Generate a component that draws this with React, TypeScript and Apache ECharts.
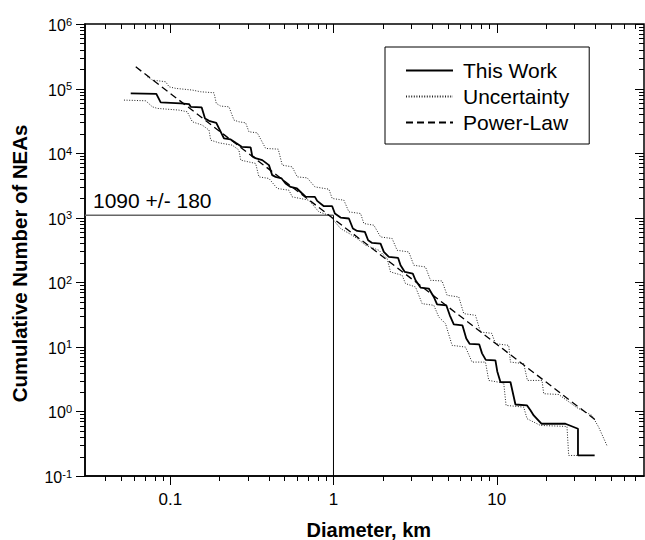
import React, { useEffect, useRef } from 'react';
import * as echarts from 'echarts';

// ---- Data (diameter km, cumulative number) ----
const thisWork: [number, number][] = [
  [0.0572, 84300], [0.0821, 83000], [0.0873, 61100], [0.1158, 58950], [0.1302, 57500],
  [0.1333, 52200], [0.1557, 51100], [0.1632, 34500], [0.1726, 31700], [0.1913, 29500],
  [0.2132, 16900], [0.2344, 16310], [0.2515, 14440], [0.2737, 12520], [0.3107, 12260],
  [0.3177, 8984], [0.3362, 8275], [0.366, 7790], [0.4022, 6516], [0.4213, 4559],
  [0.4418, 4292], [0.4811, 4054], [0.5088, 3391], [0.5462, 3002], [0.5969, 2836],
  [0.643, 2372], [0.6747, 2117], [0.7693, 2102], [0.7946, 1822], [0.8733, 1508],
  [0.9818, 1508], [1.02, 1162], [1.105, 1007], [1.243, 972], [1.315, 680],
  [1.397, 624], [1.557, 602], [1.631, 448], [1.726, 407], [1.943, 398],
  [2.035, 295], [2.184, 247], [2.49, 238], [2.576, 183.5], [2.736, 144.4],
  [3.063, 136.4], [3.183, 107.4], [3.415, 82.8], [3.839, 79.9], [4.12, 59.2],
  [4.315, 45.6], [4.914, 44.0], [5.162, 30.8], [5.462, 22.3], [6.175, 21.5],
  [6.514, 13.5], [6.842, 11.1], [7.825, 10.9], [8.138, 7.93], [8.578, 6.29],
  [9.83, 6.18], [10.09, 4.17], [10.55, 2.85], [12.15, 2.85], [13.04, 1.28],
  [15.36, 1.24], [16.11, 1.04], [16.87, 0.867], [18.81, 0.645], [26.38, 0.645],
  [31.51, 0.539], [31.51, 0.208], [39.87, 0.208],
];

const upperBound: [number, number][] = [
  [0.0723, 152400], [0.0776, 135500], [0.0937, 127500], [0.0982, 106600], [0.1079, 100700],
  [0.1364, 94800], [0.1535, 89200], [0.1852, 86100], [0.1913, 58950], [0.2035, 53550],
  [0.2288, 52200], [0.2455, 32490], [0.2634, 30570], [0.2895, 29500], [0.3033, 21390],
  [0.341, 20640], [0.3839, 11830], [0.4585, 11530], [0.4852, 6516], [0.5587, 6133],
  [0.5994, 4292], [0.6902, 4141], [0.7693, 3002], [0.9372, 2766], [0.9818, 1985],
  [1.158, 1868], [1.243, 1230], [1.466, 1162], [1.535, 813], [1.768, 765],
  [1.943, 504], [2.288, 476], [2.455, 313], [2.895, 295], [3.107, 183.5],
  [3.664, 172.7], [3.932, 107.4], [4.63, 104.8], [4.97, 62.9], [5.861, 59.2],
  [6.288, 32.7], [7.418, 30.8], [7.956, 16.96], [9.333, 16.2], [9.83, 11.2],
  [11.86, 10.55], [12.15, 5.81], [14.65, 5.49], [15.44, 3.02], [18.97, 3.02],
  [19.43, 1.88], [24.01, 1.83], [30.94, 1.15], [38.39, 0.867], [42.2, 0.571],
  [47.4, 0.297],
];

const lowerBound: [number, number][] = [
  [0.052, 66300], [0.0707, 64700], [0.0776, 52200], [0.0833, 49300], [0.1131, 46400],
  [0.1271, 43690], [0.1364, 30570], [0.157, 27180], [0.1726, 22730], [0.1768, 15910],
  [0.1987, 14440], [0.2397, 13300], [0.2634, 11130], [0.2699, 7790], [0.3334, 6924],
  [0.3492, 4292], [0.4022, 4054], [0.452, 2836], [0.5332, 2670], [0.5587, 2102],
  [0.7068, 1868], [0.8141, 1230], [0.9372, 1094], [0.9818, 972], [1.105, 680],
  [1.302, 535], [1.397, 476], [1.573, 375], [1.897, 313], [2.132, 233],
  [2.237, 144.4], [2.634, 128.4], [2.764, 95.4], [3.183, 84.6], [3.493, 46.7],
  [4.12, 44], [4.42, 29], [4.859, 22.9], [5.332, 10.55], [6.441, 9.93],
  [7.069, 5.81], [8.541, 5.81], [8.946, 3.02], [11.05, 2.75], [11.42, 1.24],
  [14.65, 1.166], [15.36, 0.771], [18.54, 0.607], [26.98, 0.585], [27.64, 0.208],
  [31.51, 0.208],
];

const powerLaw: [number, number][] = [
  [0.0614, 217000], [0.1, 84100], [0.3, 9980], [1, 964], [3, 114], [10, 11.0], [40, 0.75],
];

const markH: [number, number][] = [[0.03, 1090], [1, 1090]];
const markV: [number, number][] = [[1, 1090], [1, 0.1]];
const markText = '1090 +/- 180';
const xTitle = 'Diameter, km';
const yTitle = 'Cumulative Number of NEAs';

// ---- Axis ranges and ticks ----
const xRange = [0.03, 80];
const yRange = [0.1, 1e6];
const xMajor = [0.1, 1, 10];
const yMajor = [0.1, 1, 10, 100, 1000, 10000, 100000, 1000000];
const minorOf = (decades: number[], lo: number, hi: number) => {
  const out: number[] = [];
  decades.forEach((d) => {
    for (let m = 2; m <= 9; m++) {
      const v = +(m * d).toPrecision(3);
      if (v > lo && v < hi) out.push(v);
    }
  });
  return out;
};
const xMinor = minorOf([0.01, 0.1, 1, 10], xRange[0], xRange[1]);
const yMinor = minorOf([0.1, 1, 10, 100, 1000, 10000, 100000], yRange[0], yRange[1]);

const MAJOR_LEN = 9;
const MINOR_LEN = 5;
const FONT = 'Liberation Sans, Arial, Helvetica, sans-serif';

export default function App() {
  const ref = useRef<HTMLDivElement>(null);

  useEffect(() => {
    document.body.style.margin = '0';
    if (!ref.current) return;
    const chart = echarts.init(ref.current, undefined, { renderer: 'svg' });

    const xLabelFmt = (v: number) => String(+(+v).toPrecision(3));
    const yLabelFmt = (v: number) => {
      const e = Math.round(Math.log10(v));
      return `{b|10}{s|${e}}`;
    };

    const xTickData = [
      ...xMajor.map((v) => [v, yRange[0], MAJOR_LEN]),
      ...xMinor.map((v) => [v, yRange[0], MINOR_LEN]),
    ];
    const yTickData = [
      ...yMajor.map((v) => [xRange[0], v, MAJOR_LEN]),
      ...yMinor.map((v) => [xRange[0], v, MINOR_LEN]),
    ];
    const tickStyle = { stroke: '#000', lineWidth: 1 };

    const option: any = {
      animation: false,
      backgroundColor: '#fff',
      grid: {
        left: 85,
        top: 24,
        width: 559,
        height: 452,
        containLabel: false,
        show: true,
        borderColor: '#000',
        borderWidth: 1.5,
        backgroundColor: 'transparent',
      },
      legend: {
        data: ['This Work', 'Uncertainty', 'Power-Law'],
        orient: 'vertical',
        left: 385,
        top: 47,
        itemWidth: 47,
        itemHeight: 14,
        itemGap: 5,
        padding: [13, 20, 11, 20],
        borderColor: '#000',
        borderWidth: 1,
        borderRadius: 0,
        backgroundColor: '#fff',
        itemStyle: { opacity: 0 },
        textStyle: { fontSize: 21, color: '#000', fontFamily: FONT, padding: [0, 0, 0, 5] },
        selectedMode: false,
      },
      xAxis: {
        type: 'log',
        logBase: 10,
        min: xRange[0],
        max: xRange[1],
        position: 'bottom',
        axisLine: { show: true, onZero: false, lineStyle: { color: '#000', width: 1.5 } },
        axisTick: { show: false },
        splitLine: { show: false },
        minorTick: { show: false },
        axisLabel: {
          show: true,
          customValues: xMajor,
          formatter: xLabelFmt,
          fontSize: 17,
          color: '#000',
          fontFamily: FONT,
          margin: 15,
        },
      },
      yAxis: {
        type: 'log',
        logBase: 10,
        min: yRange[0],
        max: yRange[1],
        position: 'left',
        axisLine: { show: true, onZero: false, lineStyle: { color: '#000', width: 1.5 } },
        axisTick: { show: false },
        splitLine: { show: false },
        minorTick: { show: false },
        axisLabel: {
          show: true,
          customValues: yMajor,
          formatter: yLabelFmt,
          color: '#000',
          fontFamily: FONT,
          margin: 13,
          rich: {
            b: { fontSize: 16, lineHeight: 16, padding: [3, 0, 0, 0], fontFamily: FONT, color: '#000' },
            s: { fontSize: 11, lineHeight: 11, verticalAlign: 'top', fontFamily: FONT, color: '#000' },
          },
        },
      },
      graphic: [
        {
          type: 'text',
          left: 93,
          top: 190,
          style: { text: markText, fontSize: 21, fill: '#000', fontFamily: FONT },
        },
        {
          type: 'text',
          x: 368.8,
          y: 530,
          style: {
            text: xTitle,
            fontSize: 20,
            fontWeight: 'bold',
            fill: '#000',
            fontFamily: FONT,
            align: 'center',
            verticalAlign: 'middle',
          },
        },
        {
          type: 'text',
          x: 20,
          y: 263.5,
          rotation: Math.PI / 2,
          style: {
            text: yTitle,
            fontSize: 20.4,
            fontWeight: 'bold',
            fill: '#000',
            fontFamily: FONT,
            align: 'center',
            verticalAlign: 'middle',
          },
        },
      ],
      series: [
        {
          name: 'xTicks',
          type: 'custom',
          clip: false,
          silent: true,
          data: xTickData,
          renderItem: (params: any, api: any) => {
            const p = api.coord([api.value(0), api.value(1)]);
            const len = api.value(2);
            const cs = params.coordSys;
            const x = Math.round(p[0]) + 0.5;
            const top = cs.y;
            const bottom = cs.y + cs.height;
            return {
              type: 'group',
              children: [
                { type: 'line', shape: { x1: x, y1: bottom, x2: x, y2: bottom + len }, style: tickStyle },
                { type: 'line', shape: { x1: x, y1: top, x2: x, y2: top + len }, style: tickStyle },
              ],
            };
          },
        },
        {
          name: 'yTicks',
          type: 'custom',
          clip: false,
          silent: true,
          data: yTickData,
          renderItem: (params: any, api: any) => {
            const p = api.coord([api.value(0), api.value(1)]);
            const len = api.value(2);
            const cs = params.coordSys;
            const y = Math.round(p[1]) + 0.5;
            const left = cs.x;
            const right = cs.x + cs.width;
            return {
              type: 'group',
              children: [
                { type: 'line', shape: { x1: left - len, y1: y, x2: left, y2: y }, style: tickStyle },
                { type: 'line', shape: { x1: right - len, y1: y, x2: right, y2: y }, style: tickStyle },
              ],
            };
          },
        },
        {
          name: 'markH',
          type: 'line',
          data: markH,
          symbol: 'none',
          lineStyle: { color: '#666', width: 1.6 },
          silent: true,
        },
        {
          name: 'markV',
          type: 'line',
          data: markV,
          symbol: 'none',
          lineStyle: { color: '#000', width: 1 },
          silent: true,
        },
        {
          name: 'Uncertainty',
          type: 'line',
          data: upperBound,
          symbol: 'none',
          lineStyle: { color: '#222', width: 1, type: [1, 1.6] },
        },
        {
          name: 'Uncertainty',
          type: 'line',
          data: lowerBound,
          symbol: 'none',
          lineStyle: { color: '#222', width: 1, type: [1, 1.6] },
        },
        {
          name: 'Power-Law',
          type: 'line',
          data: powerLaw,
          symbol: 'none',
          lineStyle: { color: '#000', width: 1.3, type: [7, 4] },
        },
        {
          name: 'This Work',
          type: 'line',
          data: thisWork,
          symbol: 'none',
          lineStyle: { color: '#000', width: 1.8 },
        },
      ],
    };

    chart.setOption(option);
    return () => chart.dispose();
  }, []);

  return <div ref={ref} style={{ width: 645, height: 540 }} />;
}
